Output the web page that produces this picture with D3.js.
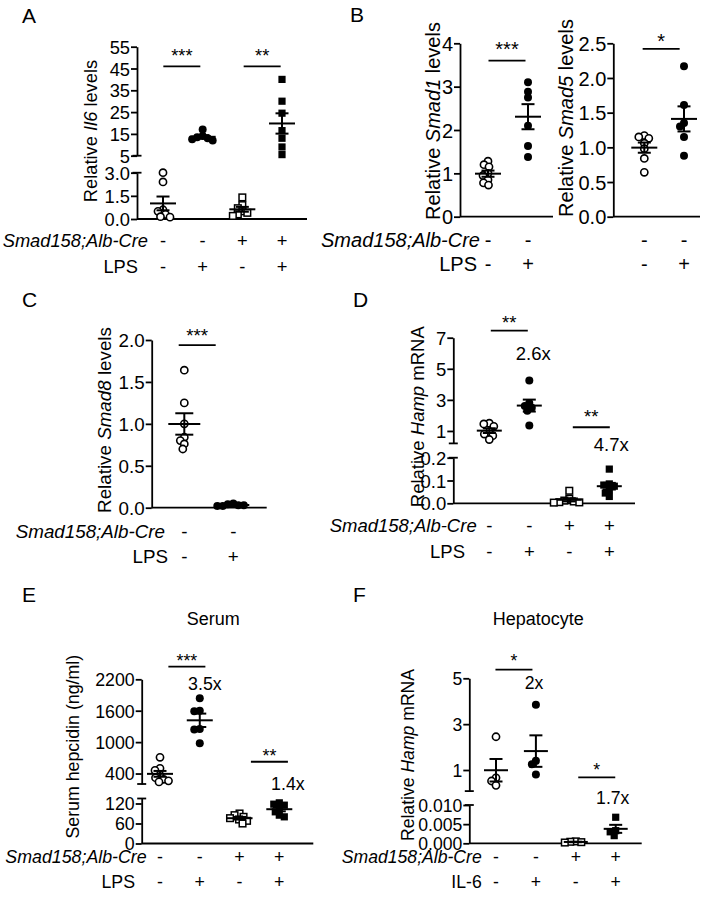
<!DOCTYPE html>
<html><head><meta charset="utf-8">
<script src="https://cdn.jsdelivr.net/npm/d3@7"></script>
<style>body{margin:0;background:#fff;} svg{display:block;}</style>
</head><body>
<script>
// ---------- row labels ----------
const genotypeRow4 = ["-", "-", "+", "+"];
const treatRow4 = ["-", "+", "-", "+"];
const genotypeRow2 = ["-", "-"];
const treatRow2 = ["-", "+"];

// ---------- Panel A: Il6 ----------
const il6WtSaline = [3.0, 2.4, 0.6, 0.5, 0.3, 0.15, 0.12];
const il6WtLps = [17.0, 14.0, 13.5, 13.0, 12.5, 12.0];
const il6KoSaline = [1.4, 0.9, 0.7, 0.5, 0.4, 0.3, 0.2];
const il6KoLps = [40.0, 30.0, 24.5, 16.5, 13.0, 9.0, 5.5];
const ticksAlow = [0, 1.5, 3];
const ticksAup = [5, 15, 25, 35, 45, 55];

// ---------- Panel B: Smad1 / Smad5 ----------
const smad1Saline = [1.28, 1.2, 1.15, 1.0, 0.95, 0.85, 0.78, 0.73];
const smad1Lps = [3.1, 2.88, 2.75, 2.1, 1.63, 1.38];
const smad5Saline = [1.17, 1.15, 1.13, 1.06, 0.98, 0.84, 0.64];
const smad5Lps = [2.17, 1.61, 1.35, 1.3, 1.15, 0.88];
const ticksB1 = [0, 1, 2, 3, 4];
const ticksB5 = [0, 0.5, 1.0, 1.5, 2.0, 2.5];

// ---------- Panel C: Smad8 ----------
const smad8Saline = [1.64, 1.25, 1.0, 0.84, 0.8, 0.76, 0.7];
const smad8Lps = [0.05, 0.04, 0.03, 0.03, 0.02, 0.02];
const ticksC = [0, 0.5, 1.0, 1.5, 2.0];

// ---------- Panel D: Hamp mRNA ----------
const hampWtSaline = [1.5, 1.45, 1.3, 0.95, 0.8, 0.7, 0.45];
const hampWtLps = [4.25, 2.8, 2.6, 2.5, 2.3, 1.35];
const hampKoSaline = [0.055, 0.02, 0.012, 0.008, 0.005, 0.004, 0.003];
const hampKoLps = [0.15, 0.085, 0.08, 0.075, 0.06, 0.045, 0.03];
const ticksDlow = [0, 0.1, 0.2];
const ticksDup = [1, 3, 5, 7];

// ---------- Panel E: serum hepcidin ----------
const hepcWtSaline = [710, 500, 460, 370, 320, 290, 260, 240];
const hepcWtLps = [1840, 1600, 1590, 1250, 1240, 980];
const hepcKoSaline = [90, 85, 80, 76, 72, 68, 60];
const hepcKoLps = [122, 118, 115, 105, 95, 85, 80];
const ticksElow = [0, 60, 120];
const ticksEup = [400, 1000, 1600, 2200];

// ---------- Panel F: hepatocyte Hamp ----------
const hepaWtCtrl = [2.45, 0.66, 0.52, 0.33];
const hepaWtIl6 = [3.85, 1.4, 1.25, 0.8];
const hepaKoCtrl = [0.0005, 0.0004, 0.0003, 0.0002];
const hepaKoIl6 = [0.0068, 0.0033, 0.003, 0.002];
const ticksFlow = [0, 0.005, 0.010];
const ticksFup = [1, 3, 5];

// ================= drawing =================
const FONT = "'Liberation Sans', Arial, Helvetica, sans-serif";
const svg = d3.select("body").append("svg")
  .attr("width", 705).attr("height", 900)
  .style("background", "#fff");

function swarm(ys, d) {
  const order = ys.map((y, i) => i).sort((a, b) => ys[a] - ys[b]);
  const placed = [], xs = new Array(ys.length).fill(0);
  for (const i of order) {
    for (let k = 0; k < 80; k++) {
      const off = k === 0 ? 0 : (k % 2 ? -1 : 1) * Math.ceil(k / 2) * 0.5;
      if (placed.every(p => Math.hypot(p.x - off, p.y - ys[i]) >= d)) { xs[i] = off; break; }
    }
    placed.push({ x: xs[i], y: ys[i] });
  }
  return xs;
}

function drawPanel(p) {
  const g = svg.append("g").attr("font-family", FONT);
  const fs = p.fs;
  const segs = p.segments.map(s => Object.assign({}, s, { scale: d3.scaleLinear().domain(s.domain).range(s.range) }));
  const top = segs[segs.length - 1];
  const yOf = v => (segs.length > 1 && v >= segs[1].domain[0]) ? segs[1].scale(v) : segs[0].scale(v);
  const x = d3.scalePoint().domain(d3.range(p.groups.length)).range(p.gx);
  const SW = 1.8;

  // y axis segments
  segs.forEach(s => {
    const ax = d3.axisLeft(s.scale).tickValues(s.ticks).tickFormat(d3.format(s.fmt))
      .tickSize(6).tickSizeOuter(0).tickPadding(1);
    const a = g.append("g").attr("transform", `translate(${p.axisX},0)`).call(ax);
    a.attr("font-family", FONT).attr("font-size", fs);
    a.select(".domain").attr("stroke", "#000").attr("stroke-width", SW);
    a.selectAll(".tick line").attr("stroke", "#000").attr("stroke-width", SW);
    a.selectAll(".tick text").attr("fill", "#000").attr("dy", "0.36em");
  });
  if (segs.length > 1) {
    [segs[0].range[1], segs[1].range[0]].forEach(yy =>
      g.append("line").attr("x1", p.axisX - 4.5).attr("x2", p.axisX + 4.5)
        .attr("y1", yy).attr("y2", yy).attr("stroke", "#000").attr("stroke-width", SW));
  }
  // x axis
  const baseY = segs[0].range[0];
  g.append("line").attr("x1", p.axisX).attr("x2", p.xEnd).attr("y1", baseY).attr("y2", baseY)
    .attr("stroke", "#000").attr("stroke-width", SW);

  // points
  p.groups.forEach((gr, i) => {
    const ys = gr.data.map(yOf);
    const xs = swarm(ys, 5.2);
    const pts = gr.data.map((v, j) => ({ x: x(i) + xs[j], y: ys[j] }));
    if (gr.shape === "circle") {
      g.selectAll(null).data(pts).join("circle")
        .attr("cx", d => d.x).attr("cy", d => d.y)
        .attr("r", gr.fill ? 4 : 3.6)
        .attr("fill", gr.fill ? "#000" : "#fff")
        .attr("stroke", "#000").attr("stroke-width", gr.fill ? 0 : 1.6);
    } else {
      const s = gr.fill ? 7.2 : 6.6;
      g.selectAll(null).data(pts).join("rect")
        .attr("x", d => d.x - s / 2).attr("y", d => d.y - s / 2)
        .attr("width", s).attr("height", s)
        .attr("fill", gr.fill ? "#000" : "#fff")
        .attr("stroke", "#000").attr("stroke-width", gr.fill ? 0 : 1.5);
    }
  });
  // mean +/- SEM
  p.groups.forEach((gr, i) => {
    const m = d3.mean(gr.data);
    const sem = d3.deviation(gr.data) / Math.sqrt(gr.data.length);
    const cx = x(i);
    const lines = [
      [cx - p.meanHW, yOf(m), cx + p.meanHW, yOf(m)],
      [cx, yOf(m - sem), cx, yOf(m + sem)],
      [cx - p.capHW, yOf(m + sem), cx + p.capHW, yOf(m + sem)],
      [cx - p.capHW, yOf(m - sem), cx + p.capHW, yOf(m - sem)]
    ];
    g.selectAll(null).data(lines).join("line")
      .attr("x1", d => d[0]).attr("y1", d => d[1]).attr("x2", d => d[2]).attr("y2", d => d[3])
      .attr("stroke", "#000").attr("stroke-width", 2);
  });

  // rows under the axis
  p.rows.forEach(r => {
    if (r.label) g.append("text").attr("x", r.endX).attr("y", r.y + 0.36 * fs)
      .attr("text-anchor", "end").attr("font-size", fs)
      .attr("font-style", r.italic ? "italic" : "normal").text(r.label);
    g.selectAll(null).data(r.vals).join("text")
      .attr("x", (d, i) => x(i)).attr("y", r.y + 0.36 * fs)
      .attr("text-anchor", "middle").attr("font-size", fs).text(d => d);
  });

  // y title
  if (p.title) {
    const t = g.append("text")
      .attr("transform", `translate(${p.title.x},${p.title.cy}) rotate(-90)`)
      .attr("text-anchor", "middle").attr("font-size", fs);
    p.title.parts.forEach(([s, it]) => t.append("tspan").attr("font-style", it ? "italic" : "normal").text(s));
  }

  // significance
  p.sig.forEach(s => {
    const ly = top.scale(s.y);
    const cx = (x(s.a) + x(s.b)) / 2 + s.dx;
    g.append("line").attr("x1", cx - 18.5).attr("x2", cx + 18.5).attr("y1", ly).attr("y2", ly)
      .attr("stroke", "#000").attr("stroke-width", 1.8);
    g.append("text").attr("x", cx).attr("y", ly - s.sg + 0.57 * fs)
      .attr("text-anchor", "middle").attr("font-size", fs).text(s.stars);
    if (s.fold) g.append("text").attr("x", cx + s.fold.dx).attr("y", ly + s.fold.dy + 0.36 * fs)
      .attr("text-anchor", "middle").attr("font-size", fs).text(s.fold.text);
  });
}

const R1 = "Smad158;Alb-Cre";

// Panel A
drawPanel({
  fs: 18.3, axisX: 137, xEnd: 307, gx: [163, 282], meanHW: 13, capHW: 6.5,
  segments: [
    { domain: [0, 3], range: [219, 172.7], ticks: ticksAlow, fmt: ".1f" },
    { domain: [5, 55], range: [155.7, 46.7], ticks: ticksAup, fmt: "d" }],
  groups: [
    { data: il6WtSaline, shape: "circle", fill: false },
    { data: il6WtLps, shape: "circle", fill: true },
    { data: il6KoSaline, shape: "square", fill: false },
    { data: il6KoLps, shape: "square", fill: true }],
  title: { parts: [["Relative ", 0], ["Il6", 1], [" levels", 0]], x: 97, cy: 131 },
  rows: [
    { label: R1, italic: true, vals: genotypeRow4, y: 240, endX: 148 },
    { label: "LPS", vals: treatRow4, y: 266.5, endX: 138 }],
  sig: [
    { a: 0, b: 1, y: 46, stars: "***", dx: -1, sg: 15 },
    { a: 2, b: 3, y: 46, stars: "**", dx: 0, sg: 15 }]
});

// Panel B left
drawPanel({
  fs: 20, axisX: 460, xEnd: 553, gx: [488, 528], meanHW: 13, capHW: 6.5,
  segments: [{ domain: [0, 4], range: [216.7, 43.3], ticks: ticksB1, fmt: "d" }],
  groups: [
    { data: smad1Saline, shape: "circle", fill: false },
    { data: smad1Lps, shape: "circle", fill: true }],
  title: { parts: [["Relative ", 0], ["Smad1", 1], [" levels", 0]], x: 440, cy: 121 },
  rows: [
    { label: R1, italic: true, vals: genotypeRow2, y: 239.5, endX: 480 },
    { label: "LPS", vals: treatRow2, y: 264, endX: 477 }],
  sig: [{ a: 0, b: 1, y: 3.6, stars: "***", dx: -1, sg: 15.7 }]
});

// Panel B right
drawPanel({
  fs: 20, axisX: 613.3, xEnd: 700, gx: [644.3, 684], meanHW: 13, capHW: 6.5,
  segments: [{ domain: [0, 2.5], range: [216.7, 43.3], ticks: ticksB5, fmt: ".1f" }],
  groups: [
    { data: smad5Saline, shape: "circle", fill: false },
    { data: smad5Lps, shape: "circle", fill: true }],
  title: { parts: [["Relative ", 0], ["Smad5", 1], [" levels", 0]], x: 573, cy: 118 },
  rows: [
    { vals: genotypeRow2, y: 239.5 },
    { vals: treatRow2, y: 264 }],
  sig: [{ a: 0, b: 1, y: 2.42, stars: "*", dx: -3, sg: 12.3 }]
});

// Panel C
drawPanel({
  fs: 18.8, axisX: 151.7, xEnd: 266.7, gx: [184.3, 233.3], meanHW: 16, capHW: 9,
  segments: [{ domain: [0, 2], range: [507.7, 340], ticks: ticksC, fmt: ".1f" }],
  groups: [
    { data: smad8Saline, shape: "circle", fill: false },
    { data: smad8Lps, shape: "circle", fill: true }],
  title: { parts: [["Relative ", 0], ["Smad8", 1], [" levels", 0]], x: 111, cy: 420 },
  rows: [
    { label: R1, italic: true, vals: genotypeRow2, y: 531, endX: 165 },
    { label: "LPS", vals: treatRow2, y: 556.7, endX: 168 }],
  sig: [{ a: 0, b: 1, y: 1.94, stars: "***", dx: -11.6, sg: 13.3 }]
});

// Panel D
drawPanel({
  fs: 18.5, axisX: 453.3, xEnd: 635, gx: [489.3, 609.3], meanHW: 12.5, capHW: 6.5,
  segments: [
    { domain: [0, 0.2], range: [503.3, 457.7], ticks: ticksDlow, fmt: ".1f" },
    { domain: [0.2, 7], range: [443.4, 337.7], ticks: ticksDup, fmt: "d" }],
  groups: [
    { data: hampWtSaline, shape: "circle", fill: false },
    { data: hampWtLps, shape: "circle", fill: true },
    { data: hampKoSaline, shape: "square", fill: false },
    { data: hampKoLps, shape: "square", fill: true }],
  title: { parts: [["Relative ", 0], ["Hamp", 1], [" mRNA", 0]], x: 424, cy: 416.7 },
  rows: [
    { label: R1, italic: true, vals: genotypeRow4, y: 525, endX: 476.7 },
    { label: "LPS", vals: treatRow4, y: 551.7, endX: 465 }],
  sig: [
    { a: 0, b: 1, y: 7.45, stars: "**", dx: 0, sg: 12.4, fold: { text: "2.6x", dx: 24, dy: 22.6 } },
    { a: 2, b: 3, y: 1.24, stars: "**", dx: 2, sg: 14.6, fold: { text: "4.7x", dx: 20, dy: 17 } }]
});

// Panel E
drawPanel({
  fs: 17.8, axisX: 141.7, xEnd: 313.3, gx: [160, 279.3], meanHW: 13, capHW: 6.5,
  segments: [
    { domain: [0, 135], range: [843.5, 798.5], ticks: ticksElow, fmt: "d" },
    { domain: [200, 2200], range: [784.0, 679.3], ticks: ticksEup, fmt: "d" }],
  groups: [
    { data: hepcWtSaline, shape: "circle", fill: false },
    { data: hepcWtLps, shape: "circle", fill: true },
    { data: hepcKoSaline, shape: "square", fill: false },
    { data: hepcKoLps, shape: "square", fill: true }],
  title: { parts: [["Serum hepcidin (ng/ml)", 0]], x: 79, cy: 746.7 },
  rows: [
    { label: R1, italic: true, vals: genotypeRow4, y: 857, endX: 146.7 },
    { label: "LPS", vals: treatRow4, y: 882, endX: 135 }],
  sig: [
    { a: 0, b: 1, y: 2441, stars: "***", dx: 7, sg: 10, fold: { text: "3.5x", dx: 18, dy: 16.6 } },
    { a: 2, b: 3, y: 625, stars: "**", dx: 10, sg: 9.4, fold: { text: "1.4x", dx: 18.5, dy: 21.6 } }]
});

// Panel F
drawPanel({
  fs: 17.6, axisX: 469.3, xEnd: 641.7, gx: [496, 615.7], meanHW: 12, capHW: 6.5,
  segments: [
    { domain: [0, 0.010], range: [843.3, 805], ticks: ticksFlow, fmt: ".3f" },
    { domain: [0.08, 5], range: [791.1, 678.3], ticks: ticksFup, fmt: "d" }],
  groups: [
    { data: hepaWtCtrl, shape: "circle", fill: false },
    { data: hepaWtIl6, shape: "circle", fill: true },
    { data: hepaKoCtrl, shape: "square", fill: false },
    { data: hepaKoIl6, shape: "square", fill: true }],
  title: { parts: [["Relative ", 0], ["Hamp", 1], [" mRNA", 0]], x: 414, cy: 755 },
  rows: [
    { label: R1, italic: true, vals: genotypeRow4, y: 857, endX: 481.7 },
    { label: "IL-6", vals: treatRow4, y: 882, endX: 481.7 }],
  sig: [
    { a: 0, b: 1, y: 5.38, stars: "*", dx: -2, sg: 12.5, fold: { text: "2x", dx: 20, dy: 13.5 } },
    { a: 2, b: 3, y: 0.68, stars: "*", dx: 1, sg: 11.3, fold: { text: "1.7x", dx: 16, dy: 20 } }]
});

// panel letters and titles
const letters = [["A", 22, 23], ["B", 350, 22], ["C", 22, 307], ["D", 353, 307], ["E", 22, 602], ["F", 353, 602]];
svg.selectAll(null).data(letters).join("text")
  .attr("x", d => d[1]).attr("y", d => d[2]).attr("font-family", FONT).attr("font-size", 21).text(d => d[0]);
const panelTitles = [["Serum", 213.3, 625], ["Hepatocyte", 538.3, 625]];
svg.selectAll(null).data(panelTitles).join("text")
  .attr("x", d => d[1]).attr("y", d => d[2]).attr("font-family", FONT).attr("font-size", 18)
  .attr("text-anchor", "middle").text(d => d[0]);
</script>
</body></html>
